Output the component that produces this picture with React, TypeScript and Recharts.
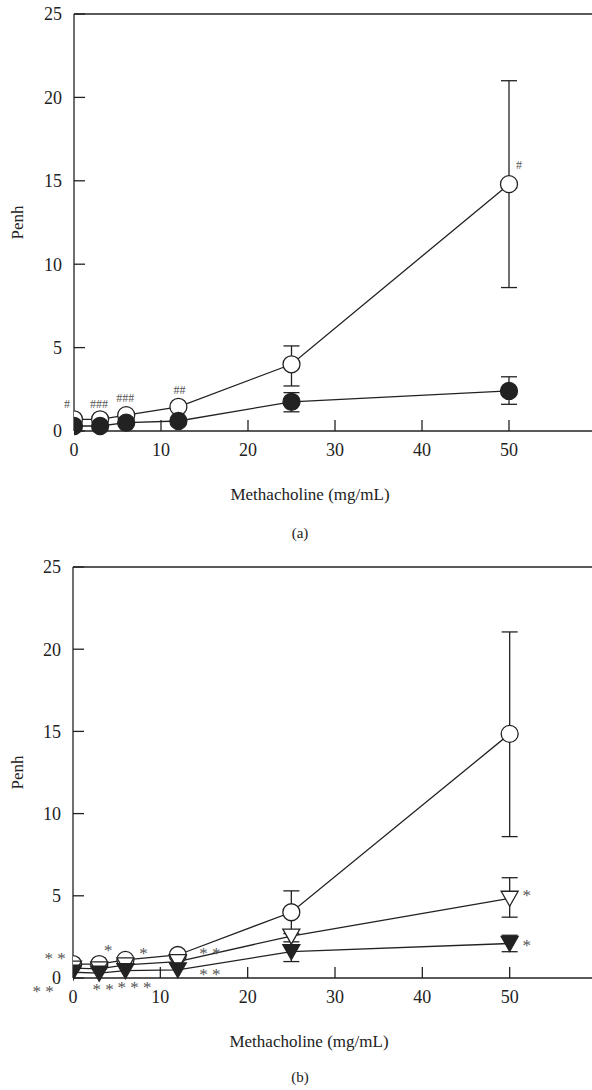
import React from 'react';
import { LineChart, Line, XAxis, YAxis, ErrorBar, ReferenceLine, LabelList, Label } from 'recharts';

const doses = [0, 3, 6, 12, 25, 50];
const xTicks = [0, 10, 20, 30, 40, 50];
const yTicks = [0, 5, 10, 15, 20, 25];

// panel (a)
const openA = [0.7, 0.7, 0.95, 1.45, 4.0, 14.8];
const openAErr = [null, null, null, null, [1.3, 1.1], [6.2, 6.2]];
const openAMarks = ['#', '###', '###', '##', '', '#'];
const filledA = [0.3, 0.3, 0.5, 0.6, 1.75, 2.4];
const filledAErr = [null, null, null, null, [0.6, 0.55], [0.8, 0.85]];

// panel (b)
const openB = [0.85, 0.85, 1.1, 1.4, 4.0, 14.85];
const openBErr = [null, null, null, null, [1.3, 1.3], [6.25, 6.2]];
const openBMarks = ['**', '*', '*', '**', '', ''];
const triOpenB = [0.6, 0.55, 0.8, 1.0, 2.55, 4.85];
const triOpenBErr = [null, null, null, null, null, [1.15, 1.25]];
const triOpenBMarks = ['', '', '', '', '', '*'];
const triFilledB = [0.35, 0.3, 0.45, 0.5, 1.6, 2.1];
const triFilledBErr = [null, null, null, null, [0.6, 0.6], [0.5, 0.5]];
const triFilledBMarks = ['**', '**', '***', '**', '', '*'];

const dataA = doses.map((d, i) => ({
  dose: d,
  open: openA[i],
  openErr: openAErr[i],
  openMark: openAMarks[i],
  filled: filledA[i],
  filledErr: filledAErr[i],
}));

const dataB = doses.map((d, i) => ({
  dose: d,
  open: openB[i],
  openErr: openBErr[i],
  openMark: openBMarks[i],
  triOpen: triOpenB[i],
  triOpenErr: triOpenBErr[i],
  triOpenMark: triOpenBMarks[i],
  triFilled: triFilledB[i],
  triFilledErr: triFilledBErr[i],
  triFilledMark: triFilledBMarks[i],
}));

const INK = '#222';
const MARK_INK = '#555';
const FONT = '"Liberation Serif", "DejaVu Serif", serif';
const TICK_MARGIN = 12;
const TICK_FONT = 18;

// where each significance mark sits relative to its point
const OFFSETS: Record<string, number[][]> = {
  openA: [[-7, -15], [-1, -15], [-1, -17], [1, -17], [0, 0], [10, -19]],
  openB: [[-18, -8], [9, -16], [18, -9], [32, -4], [0, 0], [0, 0]],
  triOpenB: [[0, 0], [0, 0], [0, 0], [0, 0], [0, 0], [17, -5]],
  triFilledB: [[-30, 17], [4, 14], [9, 14], [32, 2], [0, 0], [17, 0]],
};

const markRenderer = (series: string) => (props: any) => {
  const { x, y, value, index } = props;
  if (!value) return null;
  const [dx, dy] = OFFSETS[series][index];
  const hash = value[0] === '#';
  const size = hash ? 12 : 17;
  const shift = hash ? 4 : 8;
  const txt = hash ? value : value.split('').join(' ');
  return (
    <text
      key={`${series}-m-${index}`}
      x={x + dx}
      y={y + dy + shift}
      textAnchor="middle"
      fontSize={size}
      fill={MARK_INK}
      fontFamily={FONT}
    >
      {txt}
    </text>
  );
};

const openCircle = (p: any) => (
  <circle key={`oc-${p.index}`} cx={p.cx} cy={p.cy} r={8.5} fill="#fff" stroke={INK} strokeWidth={1.3} />
);
const filledCircle = (p: any) => (
  <circle key={`fc-${p.index}`} cx={p.cx} cy={p.cy} r={8.5} fill={INK} stroke={INK} strokeWidth={1.3} />
);
const triangle = (fill: string) => (p: any) => (
  <path
    key={`t-${fill}-${p.index}`}
    d={`M${p.cx - 8.5},${p.cy - 7} L${p.cx + 8.5},${p.cy - 7} L${p.cx},${p.cy + 8} Z`}
    fill={fill}
    stroke={INK}
    strokeWidth={1.3}
  />
);

const XTick = (props: any) => {
  const { x, y, payload } = props;
  const axisY = y - TICK_MARGIN;
  return (
    <g>
      {payload.value !== 0 && (
        <line x1={x} x2={x} y1={axisY} y2={axisY - 11} stroke={INK} strokeWidth={1.3} />
      )}
      <text x={x} y={y} dy="0.71em" textAnchor="middle" fontSize={TICK_FONT} fill={INK} fontFamily={FONT}>
        {payload.value}
      </text>
    </g>
  );
};

const YTick = (props: any) => {
  const { x, y, payload } = props;
  const axisX = x + TICK_MARGIN;
  return (
    <g>
      <line x1={axisX} x2={axisX + 11} y1={y} y2={y} stroke={INK} strokeWidth={1.3} />
      <text x={x} y={y} dy="0.35em" textAnchor="end" fontSize={TICK_FONT} fill={INK} fontFamily={FONT}>
        {payload.value}
      </text>
    </g>
  );
};

const penhLabel = (props: any) => {
  const vb = props.viewBox || { x: 0, y: 0, width: 0, height: 0 };
  const cx = 18;
  const cy = vb.y + vb.height / 2;
  return (
    <text
      x={cx}
      y={cy}
      transform={`rotate(-90 ${cx} ${cy})`}
      textAnchor="middle"
      dy="0.3em"
      fontSize={17}
      fill={INK}
      fontFamily={FONT}
    >
      Penh
    </text>
  );
};

const xLabel = (props: any) => {
  const vb = props.viewBox || { x: 0, y: 0 };
  return (
    <text x={vb.x + 236} y={vb.y + 69} textAnchor="middle" fontSize={17} fill={INK} fontFamily={FONT}>
      Methacholine (mg/mL)
    </text>
  );
};

function PanelA() {
  return (
    <LineChart width={600} height={541} data={dataA} margin={{ top: 14, right: 4, bottom: 0, left: 0 }}>
      <XAxis
        type="number"
        dataKey="dose"
        domain={[0, 60]}
        ticks={xTicks}
        allowDataOverflow
        height={110}
        tickSize={0}
        tickMargin={TICK_MARGIN}
        tickLine={false}
        tick={<XTick />}
        axisLine={{ stroke: INK, strokeWidth: 1.3 }}
      >
        <Label content={xLabel} />
      </XAxis>
      <YAxis
        type="number"
        domain={[0, 25]}
        ticks={yTicks}
        width={74}
        tickSize={0}
        tickMargin={TICK_MARGIN}
        tickLine={false}
        tick={<YTick />}
        axisLine={{ stroke: INK, strokeWidth: 1.3 }}
      >
        <Label content={penhLabel} />
      </YAxis>
      <ReferenceLine y={25} stroke={INK} strokeWidth={1.3} />
      <Line
        type="linear"
        dataKey="open"
        stroke={INK}
        strokeWidth={1.3}
        dot={openCircle}
        activeDot={false}
        isAnimationActive={false}
      >
        <ErrorBar dataKey="openErr" width={8} stroke={INK} strokeWidth={1.3} isAnimationActive={false} />
        <LabelList dataKey="openMark" content={markRenderer('openA')} />
      </Line>
      <Line
        type="linear"
        dataKey="filled"
        stroke={INK}
        strokeWidth={1.3}
        dot={filledCircle}
        activeDot={false}
        isAnimationActive={false}
      >
        <ErrorBar dataKey="filledErr" width={8} stroke={INK} strokeWidth={1.3} isAnimationActive={false} />
      </Line>
    </LineChart>
  );
}

function PanelB() {
  return (
    <LineChart width={600} height={541} data={dataB} margin={{ top: 14, right: 3, bottom: 0, left: 0 }}>
      <XAxis
        type="number"
        dataKey="dose"
        domain={[0, 60]}
        ticks={xTicks}
        allowDataOverflow
        height={116}
        tickSize={0}
        tickMargin={TICK_MARGIN}
        tickLine={false}
        tick={<XTick />}
        axisLine={{ stroke: INK, strokeWidth: 1.3 }}
      >
        <Label content={xLabel} />
      </XAxis>
      <YAxis
        type="number"
        domain={[0, 25]}
        ticks={yTicks}
        width={73}
        tickSize={0}
        tickMargin={TICK_MARGIN}
        tickLine={false}
        tick={<YTick />}
        axisLine={{ stroke: INK, strokeWidth: 1.3 }}
      >
        <Label content={penhLabel} />
      </YAxis>
      <ReferenceLine y={25} stroke={INK} strokeWidth={1.3} />
      <Line
        type="linear"
        dataKey="open"
        stroke={INK}
        strokeWidth={1.3}
        dot={openCircle}
        activeDot={false}
        isAnimationActive={false}
      >
        <ErrorBar dataKey="openErr" width={8} stroke={INK} strokeWidth={1.3} isAnimationActive={false} />
        <LabelList dataKey="openMark" content={markRenderer('openB')} />
      </Line>
      <Line
        type="linear"
        dataKey="triOpen"
        stroke={INK}
        strokeWidth={1.3}
        dot={triangle('#fff')}
        activeDot={false}
        isAnimationActive={false}
      >
        <ErrorBar dataKey="triOpenErr" width={8} stroke={INK} strokeWidth={1.3} isAnimationActive={false} />
        <LabelList dataKey="triOpenMark" content={markRenderer('triOpenB')} />
      </Line>
      <Line
        type="linear"
        dataKey="triFilled"
        stroke={INK}
        strokeWidth={1.3}
        dot={triangle(INK)}
        activeDot={false}
        isAnimationActive={false}
      >
        <ErrorBar dataKey="triFilledErr" width={8} stroke={INK} strokeWidth={1.3} isAnimationActive={false} />
        <LabelList dataKey="triFilledMark" content={markRenderer('triFilledB')} />
      </Line>
    </LineChart>
  );
}

const panelTag: React.CSSProperties = {
  position: 'absolute',
  left: 250,
  width: 100,
  textAlign: 'center',
  fontSize: 15,
  lineHeight: '20px',
  color: INK,
  fontFamily: FONT,
};

export default function App() {
  return (
    <div
      style={{
        position: 'absolute',
        left: 0,
        top: 0,
        width: 592,
        height: 1090,
        overflow: 'hidden',
        background: '#fff',
        fontFamily: FONT,
      }}
    >
      <div style={{ position: 'absolute', left: 0, top: 0 }}>
        <PanelA />
      </div>
      <div style={{ ...panelTag, top: 523 }}>(a)</div>
      <div style={{ position: 'absolute', left: 0, top: 553 }}>
        <PanelB />
      </div>
      <div style={{ ...panelTag, top: 1067 }}>(b)</div>
    </div>
  );
}
